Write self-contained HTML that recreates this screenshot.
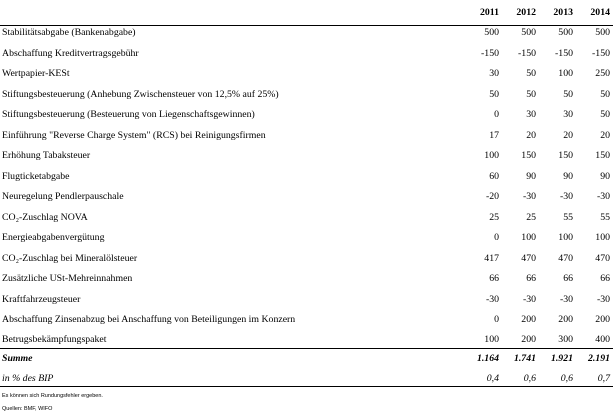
<!DOCTYPE html>
<html><head><meta charset="utf-8"><style>
body{margin:0;width:613px;height:418px;background:#fff;position:relative;overflow:hidden;font-family:"Liberation Serif",serif;font-size:9.8px;color:#000}
.r{position:absolute;left:0;width:613px;height:12px;line-height:12px}
.l{position:absolute;left:2px;white-space:nowrap}
.n{position:absolute;text-align:right;width:40px}
.c1{left:459px}.c2{left:496px}.c3{left:533px}.c4{left:570px}
.hr{position:absolute;left:0;width:613px;border-top:1px solid #000}
.b{font-weight:bold}.i{font-style:italic}
.f{position:absolute;left:2px;font-family:"Liberation Sans",sans-serif;font-size:5.5px}
</style></head><body>
<div class="r b" style="top:7px"><span class="n c1">2011</span><span class="n c2">2012</span><span class="n c3">2013</span><span class="n c4">2014</span></div>
<div class="hr" style="top:25px"></div>
<div class="r" style="top:27px"><span class="l">Stabilitätsabgabe (Bankenabgabe)</span><span class="n c1">500</span><span class="n c2">500</span><span class="n c3">500</span><span class="n c4">500</span></div>
<div class="r" style="top:47.5px"><span class="l">Abschaffung Kreditvertragsgebühr</span><span class="n c1">-150</span><span class="n c2">-150</span><span class="n c3">-150</span><span class="n c4">-150</span></div>
<div class="r" style="top:68px"><span class="l">Wertpapier-KESt</span><span class="n c1">30</span><span class="n c2">50</span><span class="n c3">100</span><span class="n c4">250</span></div>
<div class="r" style="top:88.5px"><span class="l">Stiftungsbesteuerung (Anhebung Zwischensteuer von 12,5% auf 25%)</span><span class="n c1">50</span><span class="n c2">50</span><span class="n c3">50</span><span class="n c4">50</span></div>
<div class="r" style="top:109px"><span class="l">Stiftungsbesteuerung (Besteuerung von Liegenschaftsgewinnen)</span><span class="n c1">0</span><span class="n c2">30</span><span class="n c3">30</span><span class="n c4">50</span></div>
<div class="r" style="top:129.5px"><span class="l">Einführung "Reverse Charge System" (RCS) bei Reinigungsfirmen</span><span class="n c1">17</span><span class="n c2">20</span><span class="n c3">20</span><span class="n c4">20</span></div>
<div class="r" style="top:150px"><span class="l">Erhöhung Tabaksteuer</span><span class="n c1">100</span><span class="n c2">150</span><span class="n c3">150</span><span class="n c4">150</span></div>
<div class="r" style="top:170.5px"><span class="l">Flugticketabgabe</span><span class="n c1">60</span><span class="n c2">90</span><span class="n c3">90</span><span class="n c4">90</span></div>
<div class="r" style="top:191px"><span class="l">Neuregelung Pendlerpauschale</span><span class="n c1">-20</span><span class="n c2">-30</span><span class="n c3">-30</span><span class="n c4">-30</span></div>
<div class="r" style="top:211.5px"><span class="l">CO₂-Zuschlag NOVA</span><span class="n c1">25</span><span class="n c2">25</span><span class="n c3">55</span><span class="n c4">55</span></div>
<div class="r" style="top:232px"><span class="l">Energieabgabenvergütung</span><span class="n c1">0</span><span class="n c2">100</span><span class="n c3">100</span><span class="n c4">100</span></div>
<div class="r" style="top:252.5px"><span class="l">CO₂-Zuschlag bei Mineralölsteuer</span><span class="n c1">417</span><span class="n c2">470</span><span class="n c3">470</span><span class="n c4">470</span></div>
<div class="r" style="top:273px"><span class="l">Zusätzliche USt-Mehreinnahmen</span><span class="n c1">66</span><span class="n c2">66</span><span class="n c3">66</span><span class="n c4">66</span></div>
<div class="r" style="top:293.5px"><span class="l">Kraftfahrzeugsteuer</span><span class="n c1">-30</span><span class="n c2">-30</span><span class="n c3">-30</span><span class="n c4">-30</span></div>
<div class="r" style="top:314px"><span class="l">Abschaffung Zinsenabzug bei Anschaffung von Beteiligungen im Konzern</span><span class="n c1">0</span><span class="n c2">200</span><span class="n c3">200</span><span class="n c4">200</span></div>
<div class="r" style="top:334px"><span class="l">Betrugsbekämpfungspaket</span><span class="n c1">100</span><span class="n c2">200</span><span class="n c3">300</span><span class="n c4">400</span></div>
<div class="hr" style="top:348px"></div>
<div class="r b i" style="top:353px"><span class="l">Summe</span><span class="n c1">1.164</span><span class="n c2">1.741</span><span class="n c3">1.921</span><span class="n c4">2.191</span></div>
<div class="r i" style="top:373px"><span class="l">in % des BIP</span><span class="n c1">0,4</span><span class="n c2">0,6</span><span class="n c3">0,6</span><span class="n c4">0,7</span></div>
<div class="hr" style="top:386px"></div>
<div class="f" style="top:393px">Es können sich Rundungsfehler ergeben.</div>
<div class="f" style="top:406px">Quellen: BMF, WIFO</div>
</body></html>
